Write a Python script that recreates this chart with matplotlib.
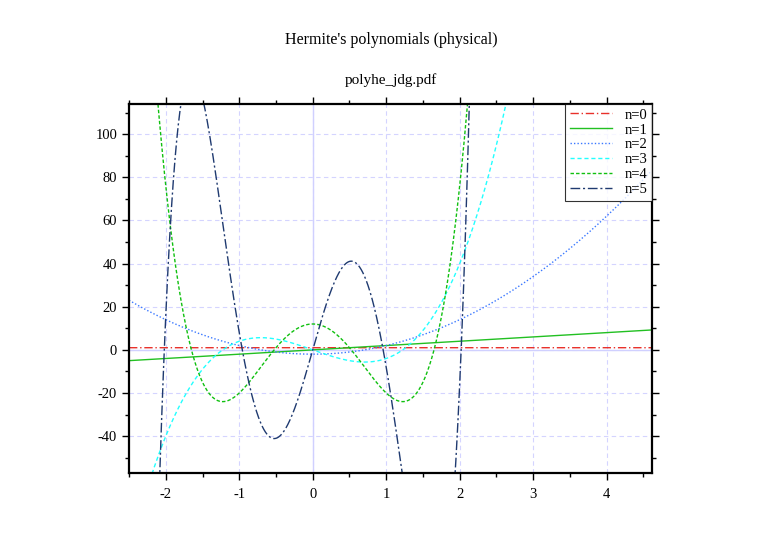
import numpy as np
import matplotlib
matplotlib.use("Agg")
import matplotlib.pyplot as plt
from matplotlib.ticker import MultipleLocator

plt.rcParams['font.family'] = ['Liberation Serif', 'DejaVu Serif']
plt.rcParams['axes.unicode_minus'] = False
plt.rcParams['font.size'] = 10.5

# coefficients of the physicists' Hermite polynomials (highest power first)
h0 = [1]
h1 = [2, 0]
h2 = [4, 0, -2]
h3 = [8, 0, -12, 0]
h4 = [16, 0, -48, 0, 12]
h5 = [32, 0, -160, 0, 120, 0]
labels = ['n=0', 'n=1', 'n=2', 'n=3', 'n=4', 'n=5']

x_range = [-2.5, 4.62]
y_range = [-57, 114]

colors = ['#e8302a', '#22c022', '#3a78ff', '#22ffff', '#10c010', '#1f3a70']
styles = [(0, (6, 2, 1, 2)), '-', (0, (1, 1.5)), (0, (3, 2)), (0, (2.5, 1.5)), (0, (7, 2, 1.5, 2))]

fig = plt.figure(figsize=(7.82, 5.53), dpi=100)
ax = fig.add_axes([0.165, 0.145, 0.669, 0.667])

x = np.linspace(x_range[0], x_range[1], 2000)
for coefs, lab, c, ls in zip([h0, h1, h2, h3, h4, h5], labels, colors, styles):
    ax.plot(x, np.polyval(coefs, x), color=c, linestyle=ls, lw=1.0, label=lab)

ax.set_xlim(x_range)
ax.set_ylim(y_range)

# grille
ax.xaxis.set_major_locator(MultipleLocator(1))
ax.xaxis.set_minor_locator(MultipleLocator(0.5))
ax.yaxis.set_major_locator(MultipleLocator(20))
ax.yaxis.set_minor_locator(MultipleLocator(10))
ax.grid(True, which='major', color='#d4d4ff', linestyle=(0, (4, 3)), lw=0.8)
ax.axhline(0, color='#d0d0ff', lw=1.0, zorder=1.5)
ax.axvline(0, color='#d0d0ff', lw=1.0, zorder=1.5)
ax.set_axisbelow(True)

for s in ax.spines.values():
    s.set_linewidth(1.6)
ax.tick_params(which='both', direction='out', top=True, right=True, width=1)
ax.tick_params(which='major', length=5, labelsize=10.5)
ax.tick_params(which='minor', length=3)
ax.tick_params(axis='x', pad=6)

leg = ax.legend(loc='upper right', fontsize=10.5, frameon=True, fancybox=False,
                borderaxespad=0, handlelength=2.9, labelspacing=0.12,
                borderpad=0.3, handletextpad=0.9)
leg.get_frame().set_edgecolor('black')
leg.get_frame().set_linewidth(0.8)

fig.text(0.5, 0.928, "Hermite's polynomials (physical)", ha='center', va='center', fontsize=11.5)
fig.text(0.5, 0.856, "polyhe_jdg.pdf", ha='center', va='center', fontsize=11)

fig.savefig('out.png', dpi=100)
